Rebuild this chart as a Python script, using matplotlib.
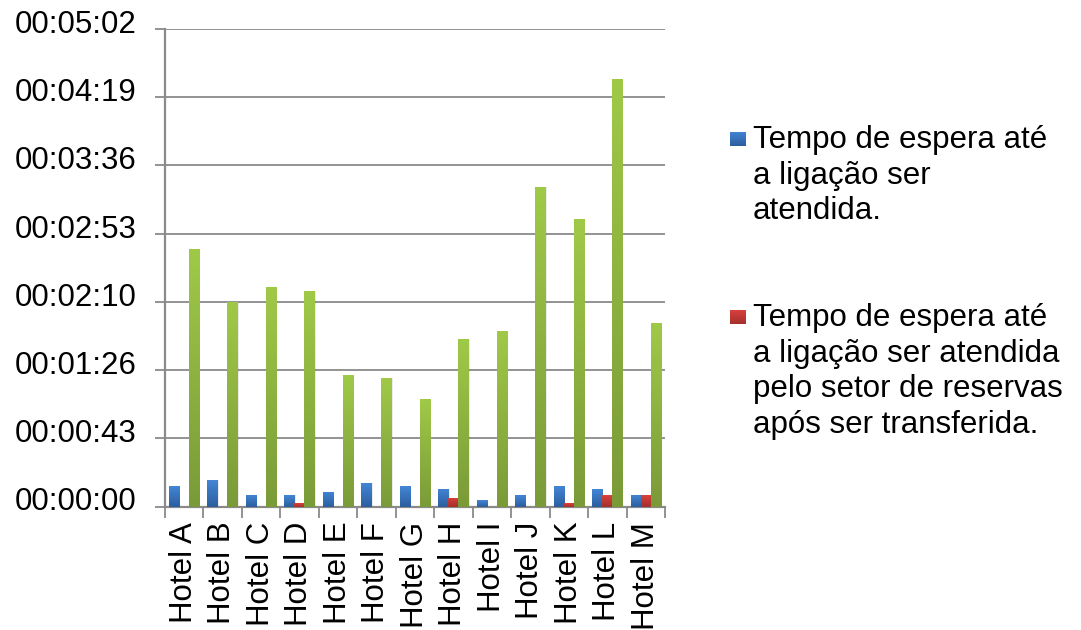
import numpy as np
import matplotlib
matplotlib.use("Agg")
import matplotlib.pyplot as plt
from matplotlib.colors import LinearSegmentedColormap
from matplotlib.transforms import ScaledTranslation

plt.rcParams["font.family"] = ["Liberation Sans", "DejaVu Sans"]

# Waiting times in seconds per hotel
hotels = ["Hotel A", "Hotel B", "Hotel C", "Hotel D", "Hotel E", "Hotel F", "Hotel G",
          "Hotel H", "Hotel I", "Hotel J", "Hotel K", "Hotel L", "Hotel M"]
espera_atendida = [12.7, 16.5, 7.6, 7.0, 9.5, 14.6, 12.7, 11.4, 4.4, 7.0, 12.7, 10.8, 7.6]
espera_reservas = [0, 0, 0, 2.5, 0, 0, 0, 5.7, 0, 0, 2.5, 7.0, 7.0]
espera_total = [163, 129.5, 139, 136.5, 83.3, 81.4, 68.1, 106, 111, 202.3, 182, 270.7, 116.2]

legend_labels = ["Tempo de espera até\na ligação ser\natendida.",
                 "Tempo de espera até\na ligação ser atendida\npelo setor de reservas\napós ser transferida."]

y_step = 43.2
y_max = 302.4

series = [
    (espera_atendida, ("#2C5E9E", "#4386D6")),
    (espera_reservas, ("#A3302D", "#D9413C")),
    (espera_total, ("#7A9A38", "#A0C948")),
]

FS = 22.5
W, H = 1081, 630

fig = plt.figure(figsize=(W / 100, H / 100), dpi=100)
ax = fig.add_axes([0.1524, 0.196, 0.4628, 0.758])

x = np.arange(len(hotels))
bar_w = 0.26
offsets = [-bar_w, 0, bar_w]
grad = np.linspace(0, 1, 256).reshape(-1, 1)

for (vals, (c_bot, c_top)), off in zip(series, offsets):
    cmap = LinearSegmentedColormap.from_list("g", [c_bot, c_top])
    bars = ax.bar(x + off, vals, width=bar_w, color=c_top, zorder=3, linewidth=0)
    for b in bars:
        h = b.get_height()
        if h <= 0:
            continue
        # soft shadow to the right of each bar
        ax.bar(b.get_x() + b.get_width() * 0.5 + 0.03, h, width=b.get_width(),
               color="#000000", alpha=0.08, zorder=2.5, linewidth=0)
        im = ax.imshow(grad, cmap=cmap, origin="lower", aspect="auto",
                       extent=[b.get_x(), b.get_x() + b.get_width(), 0, h],
                       zorder=3.1, interpolation="bicubic")
        im.set_clip_path(b)

ax.set_xlim(-0.5, len(hotels) - 0.5)
ax.set_ylim(0, y_max)

yt = np.arange(0, y_max + 1e-6, y_step)
ax.set_yticks(yt)


def hms(v):
    s = int(round(v))
    return f"{s // 3600:02d}:{(s % 3600) // 60:02d}:{s % 60:02d}"


ax.set_yticklabels([hms(v) for v in yt])
ax.yaxis.grid(True, color="#8A8A8A", linewidth=1.3, zorder=1)
ax.set_axisbelow(True)

ax.set_xticks(x)
ax.set_xticklabels(hotels, rotation=90, va="top", ha="center")
ax.set_xticks(np.arange(-0.5, len(hotels)), minor=True)
ax.tick_params(axis="x", which="major", length=0, pad=11, labelsize=FS)
ax.tick_params(axis="x", which="minor", length=8, width=1.3, color="#8A8A8A", direction="out")
ax.tick_params(axis="y", length=7, width=1.3, color="#8A8A8A", pad=13, labelsize=FS)

for lab in ax.get_yticklabels():
    lab.set_transform(lab.get_transform() + ScaledTranslation(0, 5.5 / 72, fig.dpi_scale_trans))

for side in ("top", "right"):
    ax.spines[side].set_visible(False)
for side in ("left", "bottom"):
    ax.spines[side].set_color("#8A8A8A")
    ax.spines[side].set_linewidth(1.6)

# Legend: square marker aligned with the first line of each wrapped label
legend_colors = [("#2C5E9E", "#4386D6"), ("#A3302D", "#D9413C")]
entry_tops = [125, 303]  # pixel rows from the top of the figure
for label, (c_bot, c_top), top in zip(legend_labels, legend_colors, entry_tops):
    cmap = LinearSegmentedColormap.from_list("lg", [c_bot, c_top])
    lax = fig.add_axes([730 / W, 1 - (top + 21) / H, 16 / W, 14 / H])
    lax.imshow(grad, cmap=cmap, origin="lower", aspect="auto", interpolation="bicubic")
    lax.set_axis_off()
    fig.text(753 / W, 1 - top / H, label, fontsize=FS, va="top", ha="left",
             linespacing=1.24)

fig.savefig("out.png", dpi=100)
